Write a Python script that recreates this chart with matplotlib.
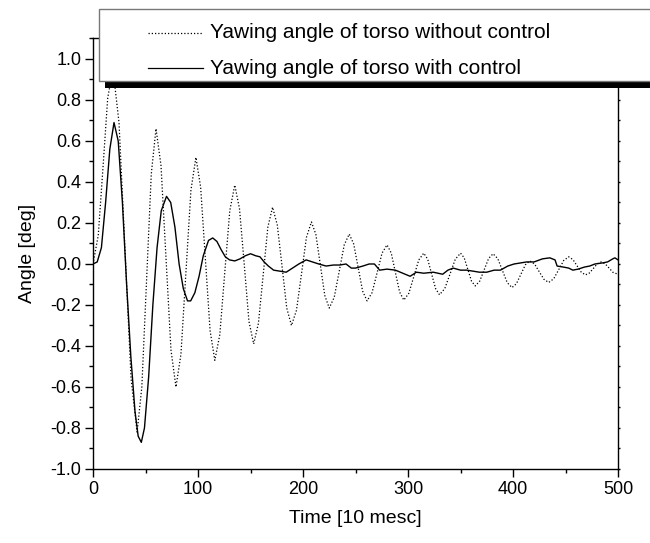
import matplotlib.pyplot as plt
from matplotlib.patches import Rectangle
from matplotlib.lines import Line2D
from matplotlib.ticker import MultipleLocator

plt.rcParams['font.family'] = ['Liberation Sans', 'DejaVu Sans']

# yawing angle without control (dotted)
t_free = [0, 5, 9.5, 14, 19, 24.75, 30.5, 36.25, 42, 46.5, 51, 55.5, 60,
          64.75, 69.5, 74.25, 79, 83.75, 88.5, 93.25, 98, 102.5, 107, 111.5,
          116, 120.75, 125.5, 130.25, 135, 139.5, 144, 148.5, 153, 157.5,
          162, 166.5, 171, 175.5, 180, 184.5, 189, 193.75, 198.5, 203.25,
          208, 212.25, 216.5, 220.75, 225, 229.75, 234.5, 239.25, 244,
          248.25, 252.5, 256.75, 261, 265.75, 270.5, 275.25, 280, 284, 288,
          292, 296, 300.75, 305.5, 310.25, 315, 318.75, 322.5, 326.25, 330,
          335, 340, 345, 350, 353.5, 357, 360.5, 364, 368.25, 372.5, 376.75,
          381, 385.5, 390, 394.5, 399, 403.25, 407.5, 411.75, 416, 420.5,
          425, 429.5, 434, 438.75, 443.5, 448.25, 453, 457, 461, 465, 469,
          472.75, 476.5, 480.25, 484, 487.75, 491.5, 495.25, 500]
a_free = [0, 0.14, 0.47, 0.81, 0.95, 0.69, 0.065, -0.56, -0.82, -0.60, -0.08,
          0.44, 0.66, 0.48, 0.03, -0.42, -0.60, -0.44, -0.04, 0.36, 0.52,
          0.375, 0.025, -0.325, -0.47, -0.345, -0.04, 0.26, 0.385, 0.27, 0.0,
          -0.28, -0.39, -0.29, -0.057, 0.18, 0.277, 0.19, -0.01, -0.215,
          -0.30, -0.226, -0.05, 0.13, 0.205, 0.144, -0.005, -0.154, -0.215,
          -0.162, -0.035, 0.093, 0.146, 0.098, -0.017, -0.132, -0.18, -0.14,
          -0.044, 0.053, 0.093, 0.054, -0.042, -0.137, -0.176, -0.143,
          -0.062, 0.02, 0.053, 0.023, -0.049, -0.12, -0.15, -0.12, -0.049,
          0.023, 0.053, 0.03, -0.027, -0.084, -0.107, -0.084, -0.029, 0.027,
          0.05, 0.026, -0.033, -0.091, -0.115, -0.096, -0.05, -0.004, 0.015,
          0.0, -0.038, -0.075, -0.09, -0.072, -0.028, 0.017, 0.035, 0.022,
          -0.009, -0.04, -0.053, -0.044, -0.022, 0.001, 0.01, 0.001, -0.02,
          -0.041, -0.05]

# yawing angle with control (solid)
t_ctrl = [0, 4, 8, 12, 16, 20, 24, 28, 32, 36, 40, 43, 46, 49, 53, 57, 61,
          65, 70, 74, 78, 82, 86, 90, 93, 97, 101, 105, 110, 114, 118, 122,
          126, 130, 135, 140, 145, 150, 155, 159, 163, 167, 172, 178, 184,
          190, 196, 203, 209, 215, 222, 229, 235, 241, 246, 250, 257, 263,
          268, 273, 280, 288, 295, 302, 308, 315, 324, 333, 338, 343, 350,
          356, 362, 368, 375, 382, 388, 395, 401, 407, 413, 420, 428, 435,
          440, 442, 448, 453, 457, 462, 468, 473, 478, 485, 490, 495, 497,
          500]
a_ctrl = [0, 0.01, 0.08, 0.3, 0.56, 0.69, 0.6, 0.3, -0.1, -0.45, -0.72,
          -0.84, -0.87, -0.80, -0.55, -0.2, 0.08, 0.26, 0.33, 0.30, 0.18, 0.0,
          -0.12, -0.18, -0.18, -0.14, -0.06, 0.04, 0.115, 0.127, 0.11, 0.07,
          0.035, 0.02, 0.015, 0.025, 0.04, 0.05, 0.04, 0.035, 0.01, -0.01,
          -0.03, -0.035, -0.04, -0.02, 0.0, 0.02, 0.01, 0.0, -0.01, -0.005,
          -0.005, 0.0, -0.02, -0.02, -0.01, 0.0, 0.0, -0.03, -0.025, -0.03,
          -0.045, -0.06, -0.04, -0.045, -0.04, -0.05, -0.03, -0.02, -0.03,
          -0.03, -0.035, -0.04, -0.04, -0.03, -0.03, -0.01, 0.0, 0.005, 0.01,
          0.01, 0.025, 0.03, 0.02, -0.01, -0.015, -0.02, -0.03, -0.025,
          -0.015, -0.01, 0.0, 0.005, 0.01, 0.025, 0.03, 0.02]

labels = ['Yawing angle of torso without control',
          'Yawing angle of torso with control']

fig = plt.figure(figsize=(6.5, 5.43), dpi=100)
ax = fig.add_axes([0.1431, 0.1363, 0.8077, 0.7928])

ax.plot(t_free, a_free, color='black', lw=0.9, linestyle=(0, (1, 1.6)))
ax.plot(t_ctrl, a_ctrl, color='black', lw=1.0)

ax.set_xlim(0, 500)
ax.set_ylim(-1.0, 1.1)
ax.xaxis.set_major_locator(MultipleLocator(100))
ax.xaxis.set_minor_locator(MultipleLocator(50))
ax.yaxis.set_major_locator(MultipleLocator(0.2))
ax.yaxis.set_minor_locator(MultipleLocator(0.1))
ax.yaxis.set_major_formatter(lambda v, p: f'{v:.1f}')
ax.tick_params(which='major', direction='out', length=5.5, width=1.0,
               labelsize=13, pad=3)
ax.tick_params(which='minor', direction='out', length=3, width=1.0)
ax.tick_params(axis='y', which='both', right=True, labelright=False)
# tiny ticks on the right spine
for t in ax.yaxis.get_ticklines(minor=False)[1::2]:
    t.set_markersize(1.5)
for t in ax.yaxis.get_ticklines(minor=True)[1::2]:
    t.set_markersize(1.5)
for s in ax.spines.values():
    s.set_linewidth(1.0)

ax.set_xlabel('Time [10 mesc]', fontsize=14, labelpad=9)
ax.set_ylabel('Angle [deg]', fontsize=14, labelpad=10)

# legend box drawn like the original (black drop shadow, grey frame)
fw, fh = 650, 543
fig.add_artist(Rectangle((105 / fw, 1 - 88 / fh), 560 / fw, 72 / fh,
                         transform=fig.transFigure, facecolor='black',
                         edgecolor='none', zorder=10, clip_on=False))
fig.add_artist(Rectangle((99 / fw, 1 - 81 / fh), 560 / fw, 72 / fh,
                         transform=fig.transFigure, facecolor='white',
                         edgecolor='#777777', lw=1.0, zorder=11, clip_on=False))
for i, (lab, ls) in enumerate(zip(labels, [(0, (1, 1.6)), '-'])):
    yy = 1 - (33 + 35 * i) / fh
    fig.add_artist(Line2D([148 / fw, 203 / fw], [yy, yy], color='black',
                          lw=0.9, linestyle=ls, transform=fig.transFigure,
                          zorder=12))
    fig.text(210 / fw, yy, lab, fontsize=15, va='center', ha='left',
             zorder=12)

fig.savefig('out.png', dpi=100)
